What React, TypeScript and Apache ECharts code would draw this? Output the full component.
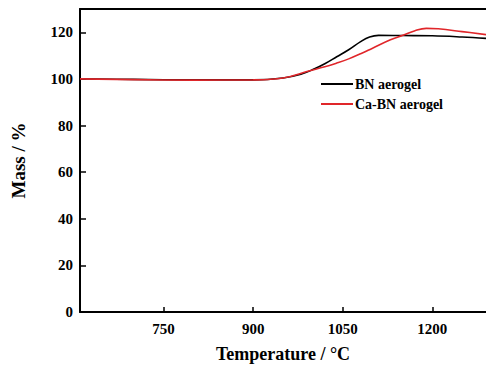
import React, { useEffect, useRef } from "react";
import * as echarts from "echarts";

const xTicks = [750, 900, 1050, 1200];
const yTicks = [0, 20, 40, 60, 80, 100, 120];

const bnTemp = [610, 700, 800, 900, 950, 980, 1000, 1020, 1040, 1060, 1080, 1095, 1110, 1150, 1200, 1250, 1290];
const bnMass = [100, 99.8, 99.6, 99.6, 100.4, 102, 104, 106.5, 109.5, 112.5, 116, 118, 118.7, 118.6, 118.5, 118, 117.4];

const caTemp = [610, 700, 800, 900, 950, 993, 1020, 1040, 1060, 1080, 1100, 1130, 1152, 1170, 1190, 1210, 1250, 1290];
const caMass = [100, 99.7, 99.5, 99.6, 100.4, 103.4, 105.2, 106.8, 108.6, 110.8, 113.2, 116.8, 118.8, 120.6, 121.7, 121.5, 120.3, 119];

const FONT = "Liberation Serif, Times New Roman, serif";

export default function App() {
  const ref = useRef<HTMLDivElement>(null);
  useEffect(() => {
    if (!ref.current) return;
    const chart = echarts.init(ref.current, null, { renderer: "svg" });
    const axisLine = { show: true, lineStyle: { color: "#000", width: 2 } };
    const lbl = { color: "#000", fontFamily: FONT, fontWeight: "bold", fontSize: 15 };
    chart.setOption({
      animation: false,
      backgroundColor: "#fff",
      grid: { left: 80, top: 9, width: 408, height: 308, containLabel: false },
      legend: {
        orient: "vertical",
        left: 316,
        top: 72,
        itemWidth: 32,
        itemHeight: 2,
        itemGap: 6,
        icon: "rect",
        textStyle: { fontFamily: FONT, fontWeight: "bold", fontSize: 14, color: "#000", padding: [0, 0, 0, -3] },
        data: ["BN aerogel", "Ca-BN aerogel"],
      },
      xAxis: [
        {
          type: "value",
          min: 610,
          max: 1290,
          axisLine,
          splitLine: { show: false },
          axisTick: { show: true, inside: true, length: 5, lineStyle: { color: "#000", width: 1.5 }, customValues: xTicks },
          axisLabel: { ...lbl, customValues: xTicks, margin: 9, formatter: (v: number) => String(v) },
          name: "Temperature / °C",
          nameLocation: "middle",
          nameGap: 33,
          nameTextStyle: { fontFamily: FONT, fontWeight: "bold", fontSize: 18, color: "#000" },
        },
        {
          type: "value",
          position: "top",
          min: 610,
          max: 1290,
          axisLine,
          axisTick: { show: false },
          axisLabel: { show: false },
          splitLine: { show: false },
        },
      ],
      yAxis: {
        type: "value",
        min: 0,
        max: 130,
        axisLine,
        splitLine: { show: false },
        axisTick: { show: true, inside: true, length: 6, lineStyle: { color: "#000", width: 1.5 }, customValues: yTicks },
        axisLabel: { ...lbl, customValues: yTicks, margin: 7, formatter: (v: number) => String(v) },
        name: "Mass / %",
        nameLocation: "middle",
        nameGap: 52,
        nameTextStyle: { fontFamily: FONT, fontWeight: "bold", fontSize: 19, color: "#000" },
      },
      series: [
        {
          name: "BN aerogel",
          type: "line",
          smooth: 0.4,
          showSymbol: false,
          color: "#000",
          lineStyle: { color: "#000", width: 1.6 },
          data: bnTemp.map((t, i) => [t, bnMass[i]]),
        },
        {
          name: "Ca-BN aerogel",
          type: "line",
          smooth: 0.4,
          showSymbol: false,
          color: "#e0262a",
          lineStyle: { color: "#e0262a", width: 1.6 },
          data: caTemp.map((t, i) => [t, caMass[i]]),
        },
      ],
    });
    return () => chart.dispose();
  }, []);
  return <div ref={ref} style={{ width: 486, height: 368, position: "absolute", left: 0, top: 0 }} />;
}
